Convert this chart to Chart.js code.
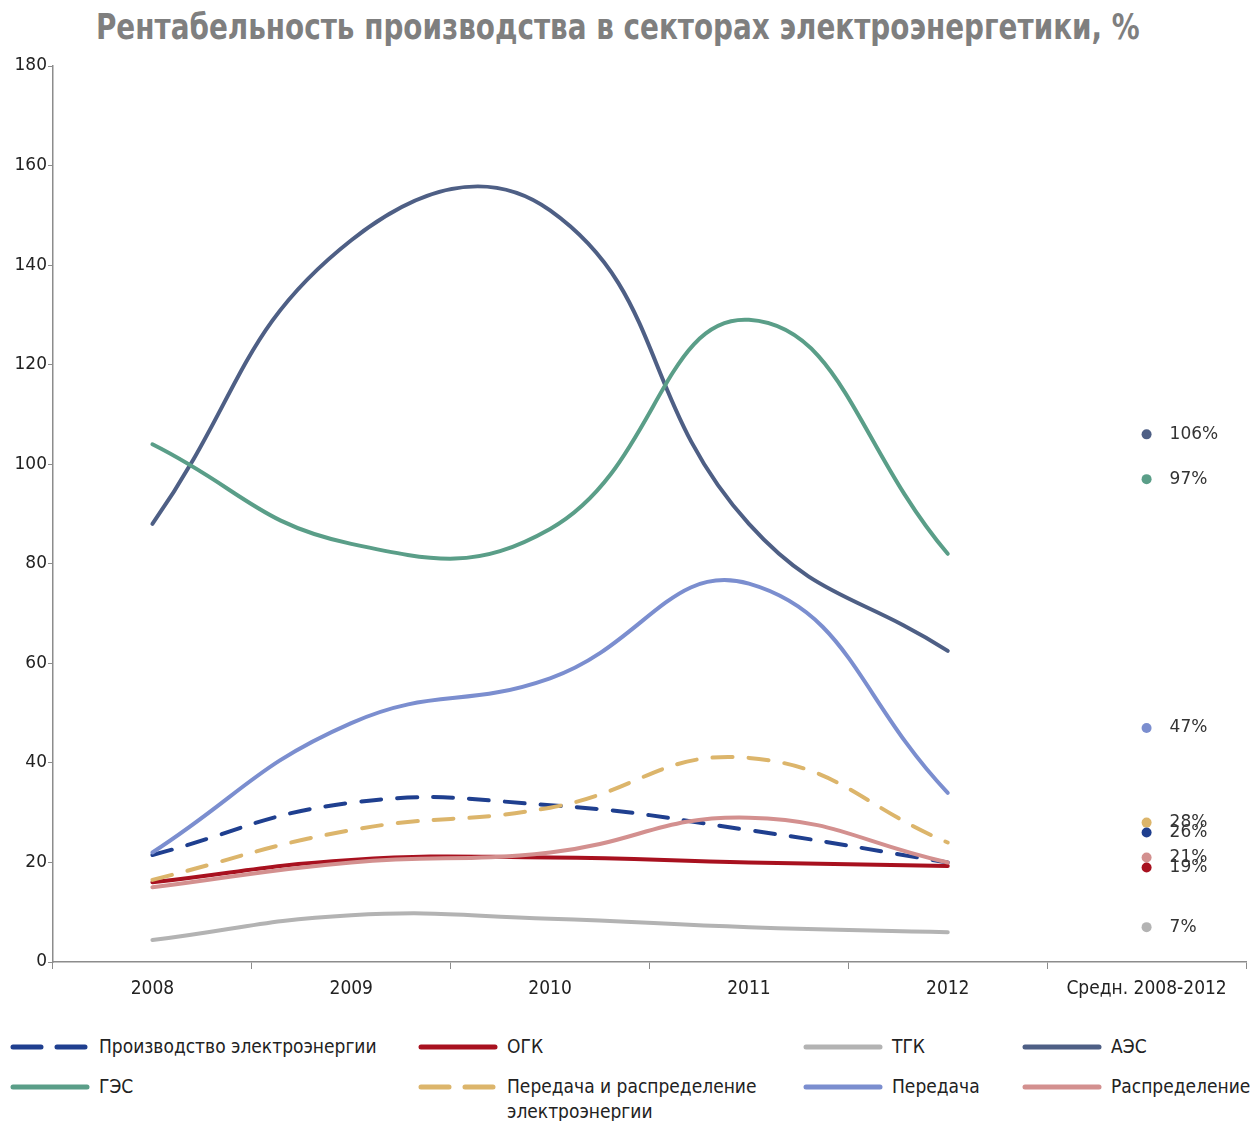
<!DOCTYPE html>
<html>
<head>
<meta charset="utf-8">
<script src="https://cdn.jsdelivr.net/npm/chart.js@4"></script>
<style>
  body { margin: 0; background: #fff; width: 1251px; height: 1121px; position: relative; overflow: hidden; }
  #title { position: absolute; left: 0; top: 6px; width: 1236px; text-align: center; }
  #title span { display: inline-block; transform: scaleX(0.86); transform-origin: center;
    font: bold 36px "DejaVu Sans Condensed", sans-serif; color: #7f7f7f; white-space: nowrap; }
  #chart { position: absolute; left: 0; top: 0; }
  .leg { position: absolute; font: 19px "DejaVu Sans Condensed", sans-serif; color: #222; line-height: 25px; }
  .leg svg { position: absolute; left: 0; top: 9px; }
  .leg span { position: absolute; left: 89px; top: 0; white-space: nowrap; }
</style>
</head>
<body>
<div id="title"><span>Рентабельность производства в секторах электроэнергетики, %</span></div>
<canvas id="chart" width="1251" height="1002"></canvas>
<div id="legend"></div>
<script>
const years = ['2008', '2009', '2010', '2011', '2012', 'Средн. 2008-2012'];

const proizvodstvo = [21.5, 32, 31.5, 26.5, 20];
const ogk = [16, 20.5, 21, 20, 19.3];
const tgk = [4.4, 9.4, 8.7, 7, 6];
const aes = [88, 145, 151, 88, 62.5];
const ges = [104, 84, 87, 129, 82];
const peredachaRaspr = [16.5, 26.5, 31, 41, 24];
const peredacha = [22, 48, 57, 76, 34];
const raspredelenie = [15, 20, 22, 29, 20];

// средние за 2008-2012
const averages = [26, 19, 7, 106, 97, 28, 47, 21];

const seriesNames = ['Производство электроэнергии', 'ОГК', 'ТГК', 'АЭС', 'ГЭС',
  'Передача и распределение электроэнергии', 'Передача', 'Распределение'];
const seriesData = [proizvodstvo, ogk, tgk, aes, ges, peredachaRaspr, peredacha, raspredelenie];
const colors = ['#1f3f8f', '#a8111f', '#b3b3b3', '#4e5f85', '#5a9e88', '#dcb56b', '#7b8ecf', '#d3908f'];
const dashed = [true, false, false, false, false, true, false, false];

const datasets = [];
seriesData.forEach((vals, i) => {
  datasets.push({
    label: seriesNames[i],
    data: [...vals, null],
    borderColor: colors[i],
    backgroundColor: colors[i],
    borderWidth: 4,
    borderDash: dashed[i] ? [20, 16] : [],
    borderCapStyle: 'round',
    tension: 0.45,
    pointRadius: 0,
    order: 10 - i
  });
});
seriesData.forEach((vals, i) => {
  datasets.push({
    label: seriesNames[i] + ' (ср.)',
    data: [null, null, null, null, null, averages[i]],
    showLine: false,
    pointRadius: 5,
    pointBorderWidth: 0,
    pointBackgroundColor: colors[i],
    borderColor: colors[i],
    avgLabel: averages[i] + '%'
  });
});

const avgLabels = {
  id: 'avgLabels',
  afterDatasetsDraw(chart) {
    const ctx = chart.ctx;
    ctx.save();
    ctx.font = '17px "DejaVu Sans", sans-serif';
    ctx.fillStyle = '#333';
    ctx.textBaseline = 'middle';
    chart.data.datasets.forEach((ds, i) => {
      if (!ds.avgLabel) return;
      const pt = chart.getDatasetMeta(i).data[5];
      ctx.fillText(ds.avgLabel, pt.x + 23, pt.y);
    });
    ctx.restore();
  }
};

const axisColor = '#8c8c8c';

new Chart(document.getElementById('chart'), {
  type: 'line',
  data: { labels: years, datasets: datasets },
  options: {
    responsive: false,
    animation: false,
    layout: { padding: { top: 66, right: -4, left: 0, bottom: 0 } },
    plugins: { legend: { display: false }, tooltip: { enabled: false } },
    scales: {
      x: {
        offset: true,
        grid: { display: true, drawOnChartArea: false, drawTicks: true, tickLength: 7, color: axisColor, offset: true },
        border: { color: axisColor, width: 1.5 },
        ticks: { color: '#222', font: { family: 'DejaVu Sans Condensed', size: 19 }, padding: 9, maxRotation: 0, autoSkip: false },
        afterFit(scale) { scale.height = 40; }
      },
      y: {
        min: 0,
        max: 180,
        grid: { display: true, drawOnChartArea: false, drawTicks: true, tickLength: 5, color: axisColor },
        border: { color: axisColor, width: 1.5 },
        ticks: { stepSize: 20, color: '#222', font: { family: 'DejaVu Sans', size: 17 }, padding: 1 },
        afterFit(scale) { scale.width = 53; }
      }
    }
  },
  plugins: [avgLabels]
});

// легенда в четыре колонки, как в оригинале
const legCols = [10, 418, 803, 1022];
const legRows = [1034, 1074];
const legend = document.getElementById('legend');
seriesNames.forEach((name, k) => {
  const div = document.createElement('div');
  div.className = 'leg';
  div.style.left = legCols[k % 4] + 'px';
  div.style.top = legRows[Math.floor(k / 4)] + 'px';
  const dash = dashed[k] ? 'stroke-dasharray="28 16"' : '';
  div.innerHTML = '<svg width="80" height="8"><line x1="3" y1="4" x2="77" y2="4" stroke="' + colors[k] +
    '" stroke-width="5" stroke-linecap="round" ' + dash + '/></svg>';
  const span = document.createElement('span');
  span.innerHTML = name === 'Передача и распределение электроэнергии'
    ? 'Передача и распределение<br>электроэнергии' : name;
  div.appendChild(span);
  legend.appendChild(div);
});
</script>
</body>
</html>
